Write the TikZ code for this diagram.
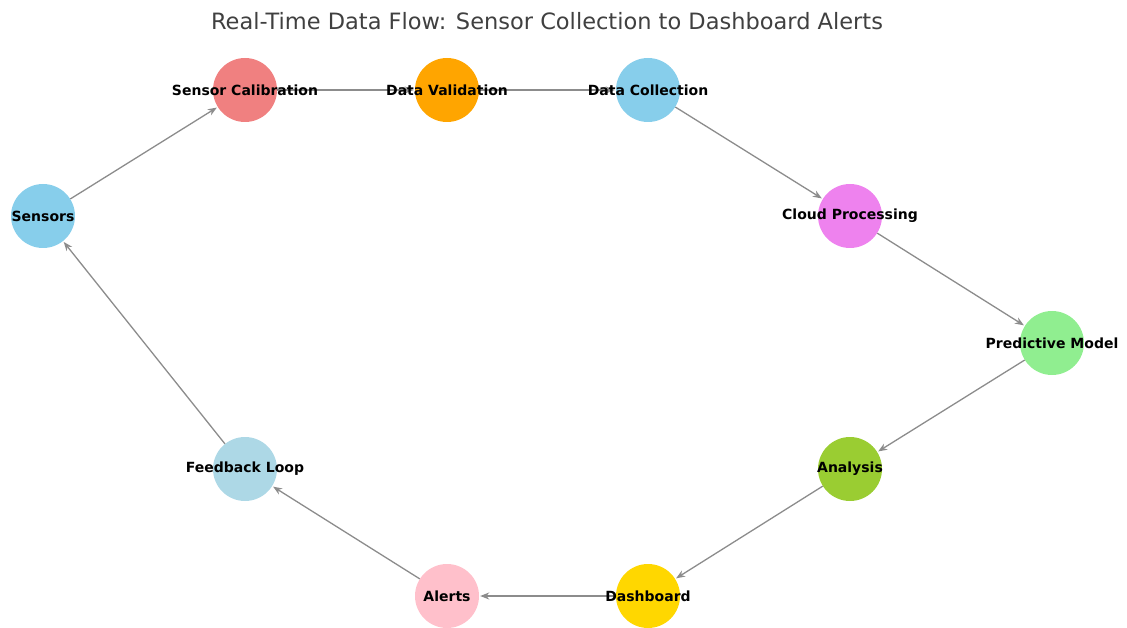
\documentclass[tikz,border=0pt]{standalone}
\usepackage{fontspec}
\setmainfont{DejaVu Sans}
\usetikzlibrary{arrows.meta}
\definecolor{skyblue}{HTML}{87CEEB}
\definecolor{lightcoral}{HTML}{F08080}
\definecolor{orangeC}{HTML}{FFA500}
\definecolor{violetC}{HTML}{EE82EE}
\definecolor{lightgreenC}{HTML}{90EE90}
\definecolor{yellowgreenC}{HTML}{9ACD32}
\definecolor{goldC}{HTML}{FFD700}
\definecolor{pinkC}{HTML}{FFC0CB}
\definecolor{lightblueC}{HTML}{ADD8E6}
\definecolor{edgegray}{HTML}{8C8C8C}
\definecolor{titlegray}{HTML}{404040}
\tikzset{
  dot/.style={circle, minimum size=64pt, inner sep=0pt, draw=none, fill=#1},
  lab/.style={font=\fontsize{14}{16}\selectfont\bfseries, text=black, inner sep=0pt},
  flow/.style={draw=edgegray, line width=1.3pt, -{Stealth[length=9pt,width=7pt]}, shorten >=1pt}
}
\begin{document}
\begin{tikzpicture}[x=1pt,y=-1pt]
\useasboundingbox (0,0) rectangle (1127,628);
\node[font=\fontsize{22.5}{26}\selectfont, text=titlegray] (title) at (547,21) {Real-Time Data Flow: Sensor Collection to Dashboard Alerts};
\node[dot=skyblue] (s) at (43,216) {};
\node[dot=lightcoral] (sc) at (245,90) {};
\node[dot=orangeC] (dv) at (447,90) {};
\node[dot=skyblue] (dc) at (648,90) {};
\node[dot=violetC] (cp) at (850,216) {};
\node[dot=lightgreenC] (pm) at (1052,343) {};
\node[dot=yellowgreenC] (an) at (850,469) {};
\node[dot=goldC] (db) at (648,596) {};
\node[dot=pinkC] (al) at (447,596) {};
\node[dot=lightblueC] (fl) at (245,469) {};
\draw[flow] (s) -- (sc);
\draw[flow] (sc) -- (dv);
\draw[flow] (dv) -- (dc);
\draw[flow] (dc) -- (cp);
\draw[flow] (cp) -- (pm);
\draw[flow] (pm) -- (an);
\draw[flow] (an) -- (db);
\draw[flow] (db) -- (al);
\draw[flow] (al) -- (fl);
\draw[flow] (fl) -- (s);
\node[lab] (sl) at (s) {Sensors};
\node[lab] (scl) at (sc) {Sensor Calibration};
\node[lab] (dvl) at (dv) {Data Validation};
\node[lab] (dcl) at (dc) {Data Collection};
\node[lab] (cpl) at (cp) {Cloud Processing};
\node[lab] (pml) at (pm) {Predictive Model};
\node[lab] (anl) at (an) {Analysis};
\node[lab] (dbl) at (db) {Dashboard};
\node[lab] (all) at (al) {Alerts};
\node[lab] (fll) at (fl) {Feedback Loop};
\end{tikzpicture}
\end{document}
